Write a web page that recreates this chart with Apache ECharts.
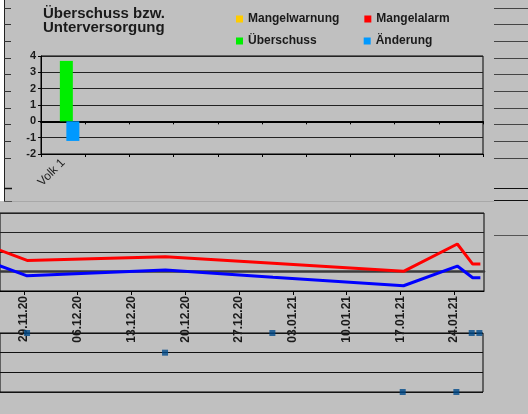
<!DOCTYPE html>
<html><head><meta charset="utf-8">
<script src="https://cdn.jsdelivr.net/npm/echarts@6/dist/echarts.min.js"></script>
<style>html,body{margin:0;padding:0;background:#c0c0c0}#c{width:528px;height:414px}</style>
</head><body><div id="c"></div>
<script>
// ---- data ----
const titleLines = ['Überschuss bzw.', 'Unterversorgung'];
const barCategories = ['Volk 1', '', '', '', '', '', '', '', '', ''];
const mangelwarnung = [null, null, null, null, null, null, null, null, null, null];
const mangelalarm = [null, null, null, null, null, null, null, null, null, null];
const ueberschuss = [3.7, null, null, null, null, null, null, null, null, null];
const aenderung = [-1.2, null, null, null, null, null, null, null, null, null];
const barTicks = [-2, -1, 0, 1, 2, 3, 4];

const lineDates = ['2020-11-22T10:00', '2020-11-29T10:00', '2020-12-17T10:00', '2020-12-31T10:00',
  '2021-01-17T10:00', '2021-01-24T10:00', '2021-01-26T10:00', '2021-01-27T10:00'];
const redValues = [1.6, 0.57, 0.76, 0.42, 0.01, 1.41, 0.38, 0.38];
const blueValues = [0.79, -0.22, 0.08, -0.29, -0.73, 0.28, -0.32, -0.32];

const pointDates = ['2020-11-29T10:00', '2020-12-17T10:00', '2020-12-31T10:00', '2021-01-17T10:00',
  '2021-01-24T10:00', '2021-01-26T10:00', '2021-01-27T10:00'];
const pointValues = [0, -1, 0, -3, -3, 0, 0];

const dateTicks = ['2020-11-29', '2020-12-06', '2020-12-13', '2020-12-20', '2020-12-27',
  '2021-01-03', '2021-01-10', '2021-01-17', '2021-01-24'];
const dateMin = '2020-11-25T21:20';
const dateMax = '2021-01-27T21:20';

// ---- helpers ----
function ts(s) {
  const parts = s.split('T');
  const d = parts[0].split('-').map(Number);
  const t = (parts[1] || '00:00').split(':').map(Number);
  return Date.UTC(d[0], d[1] - 1, d[2], t[0], t[1]);
}
function pad(n) { return (n < 10 ? '0' : '') + n; }
function fmtDate(v) {
  const d = new Date(v);
  return pad(d.getUTCDate()) + '.' + pad(d.getUTCMonth() + 1) + '.' + String(d.getUTCFullYear()).slice(2);
}
const FONT = '"Liberation Sans", Arial, sans-serif';
const TXT = '#1a1a1a';
const tickVals = dateTicks.map(ts);
const tMin = ts(dateMin), tMax = ts(dateMax);

const chart = echarts.init(document.getElementById('c'), null, { renderer: 'canvas' });

function hiddenX(gi) {
  return { gridIndex: gi, type: 'value', show: false, min: 0, max: 1 };
}

const option = {
  backgroundColor: '#c0c0c0',
  animation: false,
  textStyle: { fontFamily: FONT },
  title: {
    text: titleLines.join('\n'), left: 43, top: 7, padding: 0,
    textStyle: { fontFamily: FONT, fontSize: 15, fontWeight: 'bold', lineHeight: 14, color: TXT }
  },
  legend: [
    {
      data: ['Mangelwarnung', 'Mangelalarm'], left: 236, top: 13, padding: 0,
      itemWidth: 7, itemHeight: 7, itemGap: 25, icon: 'rect',
      textStyle: { fontFamily: FONT, fontSize: 12, fontWeight: 'bold', color: TXT }
    },
    {
      data: ['Überschuss', 'Änderung'], left: 236, top: 35, padding: 0,
      itemWidth: 7, itemHeight: 7, itemGap: 47, icon: 'rect',
      textStyle: { fontFamily: FONT, fontSize: 12, fontWeight: 'bold', color: TXT }
    }
  ],
  grid: [
    { left: 41, top: 56, width: 442, height: 98, show: true, borderColor: '#000', borderWidth: 1, backgroundColor: 'transparent' },
    { left: -2, right: 44, top: 213, height: 78, show: true, borderColor: '#000', borderWidth: 1, backgroundColor: 'transparent' },
    { left: -2, right: 45, top: 333, height: 59, show: true, borderColor: '#000', borderWidth: 1, backgroundColor: 'transparent' },
    { left: 4, top: 8, width: 7, height: 150 },
    { left: 494, right: 0, top: 8, height: 150 }
  ],
  xAxis: [
    {
      gridIndex: 0, type: 'category', data: barCategories, position: 'bottom',
      axisLine: { onZero: false, lineStyle: { color: '#000', width: 1 } },
      axisTick: { show: true, length: 3, lineStyle: { color: '#000' } },
      axisLabel: { interval: 0, rotate: 45, margin: 7, fontSize: 12, color: '#222', fontFamily: FONT }
    },
    {
      gridIndex: 0, type: 'category', data: barCategories, position: 'bottom',
      axisLine: { onZero: true, lineStyle: { color: '#000', width: 2 } },
      axisTick: { show: true, length: 3, lineStyle: { color: '#000' } },
      axisLabel: { show: false }
    },
    {
      gridIndex: 1, type: 'value', min: tMin, max: tMax, position: 'bottom', scale: true,
      axisLine: { onZero: false, lineStyle: { color: '#000', width: 1 } },
      axisTick: { show: true, length: 4, customValues: tickVals, lineStyle: { color: '#000' } },
      axisLabel: {
        customValues: tickVals, rotate: 90, margin: 5, fontSize: 12, fontWeight: 'bold', color: TXT,
        fontFamily: FONT, formatter: fmtDate, hideOverlap: false
      },
      splitLine: { show: false }
    },
    {
      gridIndex: 1, type: 'value', min: tMin, max: tMax, position: 'bottom', scale: true,
      axisLine: { onZero: true, lineStyle: { color: '#3a3a3a', width: 2.5 } },
      axisTick: { show: false }, axisLabel: { show: false }, splitLine: { show: false }
    },
    {
      gridIndex: 2, type: 'value', min: tMin, max: tMax, scale: true,
      axisLine: { show: false }, axisTick: { show: false }, axisLabel: { show: false }, splitLine: { show: false }
    },
    hiddenX(3),
    hiddenX(4)
  ],
  yAxis: [
    {
      gridIndex: 0, type: 'value', min: barTicks[0], max: barTicks[barTicks.length - 1], interval: 1,
      axisLine: { show: true, lineStyle: { color: '#000' } },
      axisTick: { show: true, length: 3, lineStyle: { color: '#000' } },
      axisLabel: { fontSize: 11, fontWeight: 'bold', color: TXT, margin: 5, fontFamily: FONT },
      splitLine: { show: true, lineStyle: { color: '#222', width: 1 } }
    },
    {
      gridIndex: 1, type: 'value', min: -1, max: 3, interval: 1,
      axisLine: { show: false }, axisTick: { show: false }, axisLabel: { show: false },
      splitLine: { show: true, lineStyle: { color: '#222', width: 1 } }
    },
    {
      gridIndex: 2, type: 'value', min: -3, max: 0, interval: 1,
      axisLine: { show: false }, axisTick: { show: false }, axisLabel: { show: false },
      splitLine: { show: true, lineStyle: { color: '#111', width: 1 } }
    },
    {
      gridIndex: 3, type: 'value', min: 0, max: 9, interval: 1,
      axisLine: { show: false }, axisTick: { show: false }, axisLabel: { show: false },
      splitLine: { show: true, lineStyle: { color: '#333', width: 1 } }
    },
    {
      gridIndex: 4, type: 'value', min: 0, max: 9, interval: 1,
      axisLine: { show: false }, axisTick: { show: false }, axisLabel: { show: false },
      splitLine: { show: true, lineStyle: { color: '#444', width: 1 } }
    }
  ],
  series: [
    { name: 'Mangelwarnung', type: 'bar', xAxisIndex: 0, yAxisIndex: 0, data: mangelwarnung, barWidth: 13, barGap: '-50%', itemStyle: { color: '#ffcc00' } },
    { name: 'Mangelalarm', type: 'bar', xAxisIndex: 0, yAxisIndex: 0, data: mangelalarm, barWidth: 13, barGap: '-50%', itemStyle: { color: '#ff0000' } },
    { name: 'Überschuss', type: 'bar', xAxisIndex: 0, yAxisIndex: 0, data: ueberschuss, barWidth: 13, barGap: '-50%', itemStyle: { color: '#00ee00' } },
    { name: 'Änderung', type: 'bar', xAxisIndex: 0, yAxisIndex: 0, data: aenderung, barWidth: 13, barGap: '-50%', itemStyle: { color: '#0099ff' } },
    {
      name: 'Alarm', type: 'line', xAxisIndex: 2, yAxisIndex: 1, showSymbol: false, symbol: 'none',
      data: lineDates.map((d, i) => [ts(d), redValues[i]]),
      lineStyle: { color: '#ff0000', width: 3 }, itemStyle: { color: '#ff0000' }
    },
    {
      name: 'Stand', type: 'line', xAxisIndex: 2, yAxisIndex: 1, showSymbol: false, symbol: 'none',
      data: lineDates.map((d, i) => [ts(d), blueValues[i]]),
      lineStyle: { color: '#0000ff', width: 3 }, itemStyle: { color: '#0000ff' }
    },
    {
      name: 'Punkte', type: 'scatter', xAxisIndex: 4, yAxisIndex: 2, symbol: 'rect', symbolSize: 6, clip: false,
      data: pointDates.map((d, i) => [ts(d), pointValues[i]]),
      itemStyle: { color: '#004a8a' }
    }
  ],
  graphic: [
    { type: 'rect', shape: { x: 0, y: 0, width: 4, height: 201 }, style: { fill: '#ffffff' }, silent: true, z: -5 },
    { type: 'line', shape: { x1: 4.5, y1: 0, x2: 4.5, y2: 201 }, style: { stroke: '#222', lineWidth: 1 }, silent: true },
    { type: 'line', shape: { x1: 4, y1: 201.5, x2: 494, y2: 201.5 }, style: { stroke: '#a8a8a8', lineWidth: 1 }, silent: true },
    { type: 'line', shape: { x1: 4, y1: 188.5, x2: 12, y2: 188.5 }, style: { stroke: '#111', lineWidth: 1.5 }, silent: true },
    { type: 'line', shape: { x1: 4, y1: 201.5, x2: 12, y2: 201.5 }, style: { stroke: '#555', lineWidth: 1 }, silent: true },
    { type: 'line', shape: { x1: 494, y1: 188.5, x2: 528, y2: 188.5 }, style: { stroke: '#111', lineWidth: 1 }, silent: true },
    { type: 'line', shape: { x1: 494, y1: 200.5, x2: 528, y2: 200.5 }, style: { stroke: '#111', lineWidth: 1 }, silent: true },
    { type: 'line', shape: { x1: 494, y1: 235.5, x2: 528, y2: 235.5 }, style: { stroke: '#555', lineWidth: 1 }, silent: true }
  ]
};
chart.setOption(option);
</script>
</body></html>
